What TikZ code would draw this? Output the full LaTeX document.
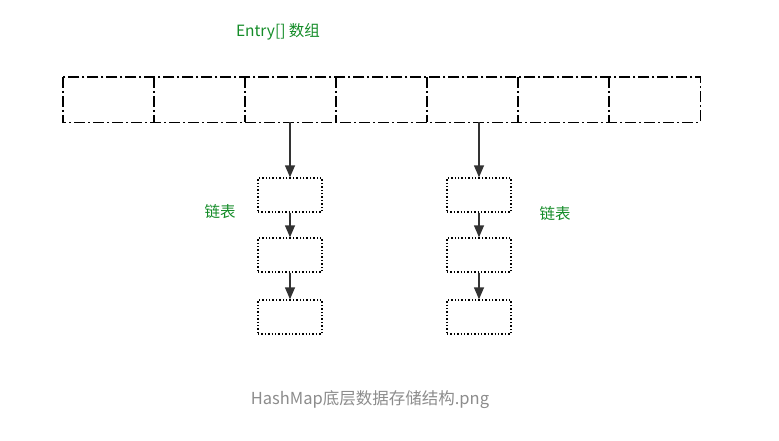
\documentclass[tikz,border=0pt]{standalone}
\usepackage{fontspec}
\setmainfont{Noto Sans CJK SC}
\usetikzlibrary{arrows.meta}
\definecolor{lbl}{RGB}{20,140,40}
\begin{document}
\begin{tikzpicture}[x=1pt,y=-1pt,
  dd/.style={dash pattern=on 11pt off 3pt on 2pt off 3pt,line width=1.4pt},
  cell/.style={minimum width=91pt,minimum height=45pt,inner sep=0},
  lnode/.style={draw,dotted,line width=1.4pt,minimum width=64pt,minimum height=34pt,inner sep=0},
  arr/.style={-{Triangle[length=12pt,width=10pt]},line width=1.4pt,draw=black!80},
  txt/.style={font=\fontsize{15.5}{18}\selectfont}]
\useasboundingbox (0,0) rectangle (779,440);
\foreach \i in {0,...,6}{
  \node[cell] (c\i) at ({63+45.5+91*\i},99.5) {};
}
\draw[dd] (c0.north west) rectangle (c6.south east);
\foreach \i in {1,...,6}{
  \draw[dd] (c\i.north west) -- (c\i.south west);
}
\node[text=lbl,txt] (t) at (278,32) {Entry[] 数组};
\node[lnode] (a1) at (290,195) {};
\node[lnode] (a2) at (290,255) {};
\node[lnode] (a3) at (290,317) {};
\node[lnode] (b1) at (479,195) {};
\node[lnode] (b2) at (479,255) {};
\node[lnode] (b3) at (479,317) {};
\coordinate (s1) at (290,122);
\coordinate (s2) at (479,122);
\draw[arr] (s1) -- (a1.north);
\draw[arr] (a1) -- (a2);
\draw[arr] (a2) -- (a3);
\draw[arr] (s2) -- (b1.north);
\draw[arr] (b1) -- (b2);
\draw[arr] (b2) -- (b3);
\node[text=lbl,txt] (l1) at (220,212) {链表};
\node[text=lbl,txt] (l2) at (555,214) {链表};
\node[text=black!45,font=\fontsize{16.5}{19}\selectfont] (cap) at (370,400) {HashMap底层数据存储结构.png};
\end{tikzpicture}
\end{document}
